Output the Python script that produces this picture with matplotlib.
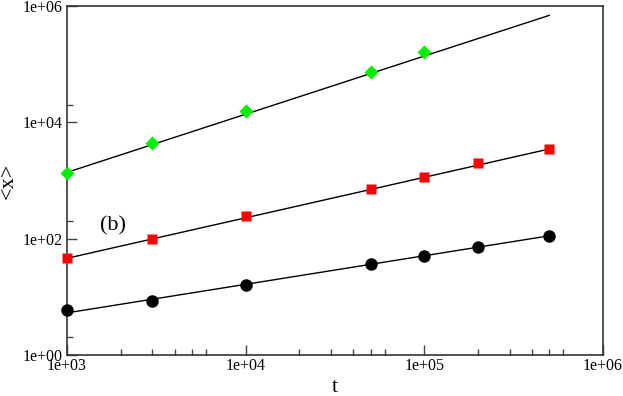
import matplotlib
matplotlib.use("Agg")
import matplotlib.pyplot as plt
from matplotlib.ticker import FixedLocator, NullFormatter

# values
t_green = [1e3, 3e3, 1e4, 5e4, 1e5]
x_green = [1320, 4470, 15800, 72400, 160000]

t_red = [1e3, 3e3, 1e4, 5e4, 1e5, 2e5, 5e5]
x_red = [47, 97.5, 245, 706, 1160, 1975, 3480]

t_black = [1e3, 3e3, 1e4, 5e4, 1e5, 2e5, 5e5]
x_black = [5.9, 8.6, 16, 36, 51, 71, 112]

# fitted power-law lines (end points)
fit_t = [1e3, 5e5]
fit_green = [1380, 690000]
fit_red = [46, 3480]
fit_black = [5.3, 112]

xticks = [1e3, 1e4, 1e5, 1e6]
xtick_labels = ["1e+03", "1e+04", "1e+05", "1e+06"]
yticks = [1e0, 1e2, 1e4, 1e6]
ytick_labels = ["1e+00", "1e+02", "1e+04", "1e+06"]

plt.rcParams['font.family'] = ['Liberation Serif', 'DejaVu Serif']

fig = plt.figure(figsize=(6.23, 3.96), dpi=100)
ax = fig.add_axes([67 / 623, 1 - 355 / 396, 536 / 623, 349 / 396])

for fv in [fit_green, fit_red, fit_black]:
    ax.plot(fit_t, fv, color='black', lw=1.0, zorder=2)

ax.plot(t_green, x_green, 'D', color='#00ee00', ms=7, mec='none', zorder=3, clip_on=False)
ax.plot(t_red, x_red, 's', color='red', ms=7.6, mec='none', zorder=3, clip_on=False)
ax.plot(t_black, x_black, 'o', color='black', ms=9, mec='none', zorder=3, clip_on=False)

ax.set_xscale('log')
ax.set_yscale('log')
ax.set_xlim(1e3, 1e6)
ax.set_ylim(1e0, 1e6)

ax.xaxis.set_major_locator(FixedLocator(xticks))
ax.set_xticklabels(xtick_labels, fontsize=11.5)
xminor = [d * m for d in [1e3, 1e4, 1e5] for m in [2, 3, 4, 5, 6]]
ax.xaxis.set_minor_locator(FixedLocator(xminor))
ax.xaxis.set_minor_formatter(NullFormatter())

ax.yaxis.set_major_locator(FixedLocator(yticks))
ax.set_yticklabels(ytick_labels, fontsize=11.5)
ax.yaxis.set_minor_locator(FixedLocator([2, 2e2, 2e4]))
ax.yaxis.set_minor_formatter(NullFormatter())

ax.tick_params(which='major', direction='in', length=7.5, width=1, color='#444444',
               top=False, right=False)
ax.tick_params(which='minor', direction='in', length=4, width=1, color='#444444',
               top=False, right=False)
ax.tick_params(axis='x', pad=2.5)
ax.tick_params(axis='y', pad=3)

for s in ax.spines.values():
    s.set_color('#333333')
    s.set_linewidth(1.2)

ax.set_xlabel('t', fontsize=16, va='center')
ax.xaxis.set_label_coords(0.5, (355 - 387) / 349)
ax.set_ylabel('<x>', fontsize=16, va='center')
ax.yaxis.set_label_coords((8.5 - 67) / 536, 0.5)
fig.text(113 / 623, 1 - 226 / 396, '(b)', fontsize=16, ha='center', va='center')

fig.savefig('out.png', dpi=100)
